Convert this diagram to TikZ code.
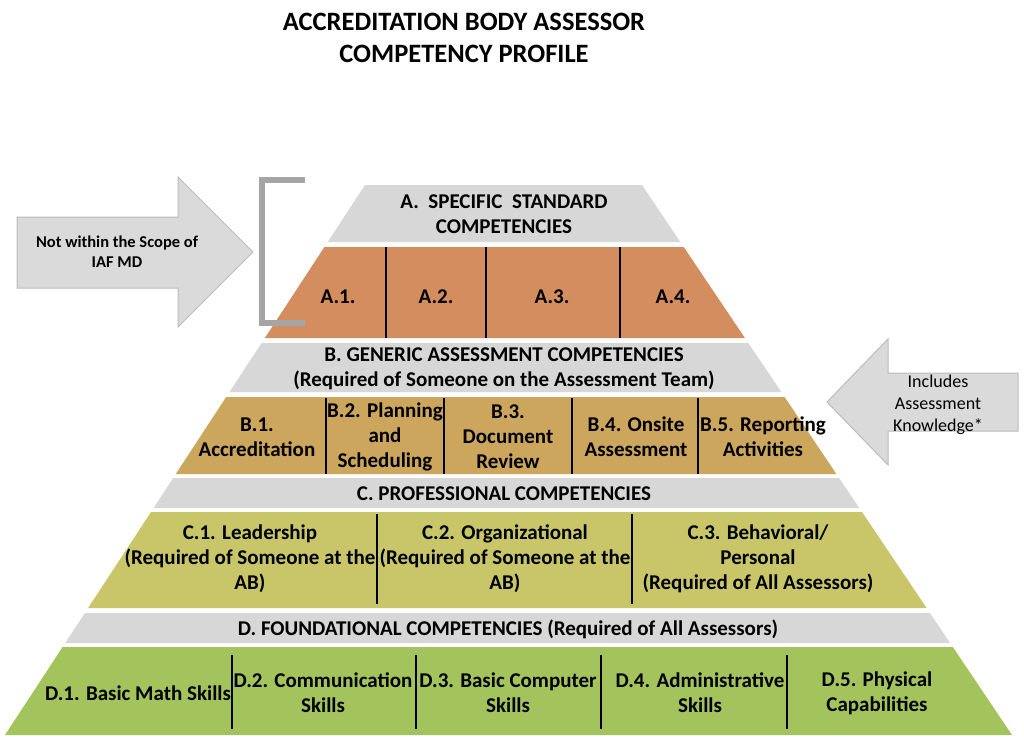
\documentclass[tikz,border=0pt]{standalone}
\usepackage{fontspec}
\setmainfont{Carlito}
\definecolor{bandgray}{RGB}{215,215,215}
\definecolor{bandA}{RGB}{211,141,95}
\definecolor{bandB}{RGB}{203,166,92}
\definecolor{bandC}{RGB}{200,198,104}
\definecolor{bandD}{RGB}{163,196,92}
\definecolor{arrowfill}{RGB}{218,218,218}
\definecolor{arrowline}{RGB}{188,188,188}
\definecolor{bracketgray}{RGB}{165,165,165}
\begin{document}
\begin{tikzpicture}[x=1pt,y=-1pt,
  lbl/.style={font=\fontsize{21}{25}\selectfont\bfseries, align=center, inner sep=0pt, text=black},
  ttl/.style={font=\fontsize{26.5}{32}\selectfont\bfseries, align=center, inner sep=0pt, text=black},
  sidebold/.style={font=\fontsize{16.5}{20}\selectfont\bfseries, align=center, inner sep=0pt, text=black},
  sidereg/.style={font=\fontsize{18}{22}\selectfont, align=center, inner sep=0pt, text=black},
  divider/.style={line width=1.5pt, black},
  blockarrow/.style={fill=arrowfill, draw=arrowline, line width=1pt, line join=miter},
  bracketline/.style={draw=bracketgray, line width=6pt, line cap=butt, line join=miter}
]
\useasboundingbox (0,0) rectangle (1024,739);
\fill[white] (0,0) rectangle (1024,739);

% title
\node[ttl] (title) at (464,38) {ACCREDITATION BODY ASSESSOR\\COMPETENCY PROFILE};

% pyramid bands
\fill[bandgray] (365,185) -- (642,185) -- (680.3,242) -- (327.7,242) -- cycle;
\fill[bandA] (324.4,247) -- (683.7,247) -- (744.9,338) -- (264.9,338) -- cycle;
\fill[bandgray] (261.6,343) -- (748.3,343) -- (781.3,392) -- (229.5,392) -- cycle;
\fill[bandB] (226.2,397) -- (784.6,397) -- (836.4,474) -- (175.8,474) -- cycle;
\fill[bandgray] (173.2,478) -- (839.1,478) -- (859.3,508) -- (153.6,508) -- cycle;
\fill[bandC] (151.0,512) -- (862.0,512) -- (926.6,608) -- (88.1,608) -- cycle;
\fill[bandgray] (84.9,613) -- (929.9,613) -- (950.1,643) -- (65.2,643) -- cycle;
\fill[bandD] (62.6,647) -- (952.8,647) -- (1012,735) -- (5,735) -- cycle;

% dividers
\draw[divider] (386,247) -- (386,338);
\draw[divider] (486,247) -- (486,338);
\draw[divider] (620,247) -- (620,338);
\draw[divider] (326,398) -- (326,474);
\draw[divider] (444,398) -- (444,474);
\draw[divider] (572,398) -- (572,474);
\draw[divider] (698,398) -- (698,474);
\draw[divider] (377,514) -- (377,604);
\draw[divider] (632,514) -- (632,604);
\draw[divider] (232,655) -- (232,729);
\draw[divider] (416,655) -- (416,729);
\draw[divider] (601,655) -- (601,729);
\draw[divider] (787,655) -- (787,729);

% band A
\node[lbl] (Ahead) at (504,214) {A.\ \ SPECIFIC\ \ STANDARD\\COMPETENCIES};
\node[lbl] (A1) at (338,297) {A.1.};
\node[lbl] (A2) at (436,297) {A.2.};
\node[lbl] (A3) at (552,297) {A.3.};
\node[lbl] (A4) at (673,297) {A.4.};

% band B
\node[lbl] (Bhead) at (504,369) {B. GENERIC ASSESSMENT COMPETENCIES\\(Required of Someone on the Assessment Team)};
\node[lbl] (B1) at (257,437) {B.1.\\Accreditation};
\node[lbl] (B2) at (385,437) {B.2. Planning\\and\\Scheduling};
\node[lbl] (B3) at (508,437) {B.3.\\Document\\Review};
\node[lbl] (B4) at (636,437) {B.4. Onsite\\Assessment};
\node[lbl] (B5) at (763,437) {B.5. Reporting\\Activities};

% band C
\node[lbl] (Chead) at (504,494) {C. PROFESSIONAL COMPETENCIES};
\node[lbl] (C1) at (250,559) {C.1. Leadership\\(Required of Someone at the\\AB)};
\node[lbl] (C2) at (505,559) {C.2. Organizational\\(Required of Someone at the\\AB)};
\node[lbl] (C3) at (758,559) {C.3. Behavioral/\\Personal\\(Required of All Assessors)};

% band D
\node[lbl] (Dhead) at (508,629) {D. FOUNDATIONAL COMPETENCIES (Required of All Assessors)};
\node[lbl] (D1) at (138,693) {D.1. Basic Math Skills};
\node[lbl] (D2) at (323,693) {D.2. Communication\\Skills};
\node[lbl] (D3) at (508,693) {D.3. Basic Computer\\Skills};
\node[lbl] (D4) at (700,693) {D.4. Administrative\\Skills};
\node[lbl] (D5) at (877,693) {D.5. Physical\\Capabilities};

% left block arrow and bracket
\draw[blockarrow] (17,217) -- (178,217) -- (178,177) -- (253,252) -- (178,327) -- (178,288) -- (17,288) -- cycle;
\node[sidebold] (scope) at (117,252) {Not within the Scope of\\IAF MD};
\draw[bracketline] (305,180) -- (262,180) -- (262,323) -- (305,323);

% right block arrow
\draw[blockarrow] (1018,373) -- (888,373) -- (888,339) -- (827,402) -- (888,465) -- (888,431) -- (1018,431) -- cycle;
\node[sidereg] (incl) at (938,405) {Includes\\Assessment\\Knowledge*};
\end{tikzpicture}
\end{document}
